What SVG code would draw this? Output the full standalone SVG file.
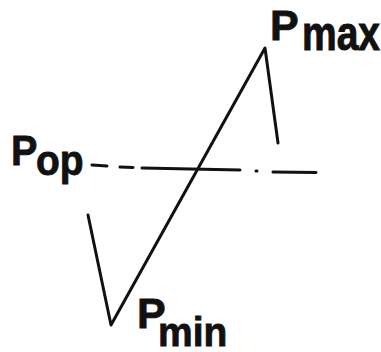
<svg xmlns="http://www.w3.org/2000/svg" width="381" height="352" viewBox="0 0 381 352">
<style>
.t{font-family:"Liberation Sans",Arial,sans-serif;font-weight:bold;fill:#111;stroke:#111;stroke-width:0.8}
.big{font-size:43px}
.sub{font-size:39px}
.ln{fill:none;stroke:#111;stroke-width:3;stroke-linecap:round;stroke-linejoin:round}
</style>
<rect width="381" height="352" fill="#fff"/>
<g id="connectors">
<polyline class="ln" points="88,215 111,325 265,48 278,143"/>
<path class="ln" d="M92,165 L107,166 M120,167 L133,167.5 M142,168 L240,170 M256,171 L257,171 M273,172 L316,172.5"/>
</g>
<g id="pmax">
<text class="t big" x="270" y="40">P</text>
<text class="t sub" transform="translate(302,50) scale(1,1.22)">max</text>
</g>
<g id="pop">
<text class="t big" x="11" y="165" transform="translate(11,165) scale(0.92,1) translate(-11,-165)">P</text>
<text class="t sub" transform="translate(36,175) scale(1,1.1)">op</text>
</g>
<g id="pmin">
<text class="t big" x="137" y="328">P</text>
<text class="t sub" transform="translate(158,346) scale(1,1.05)">min</text>
</g>
</svg>
